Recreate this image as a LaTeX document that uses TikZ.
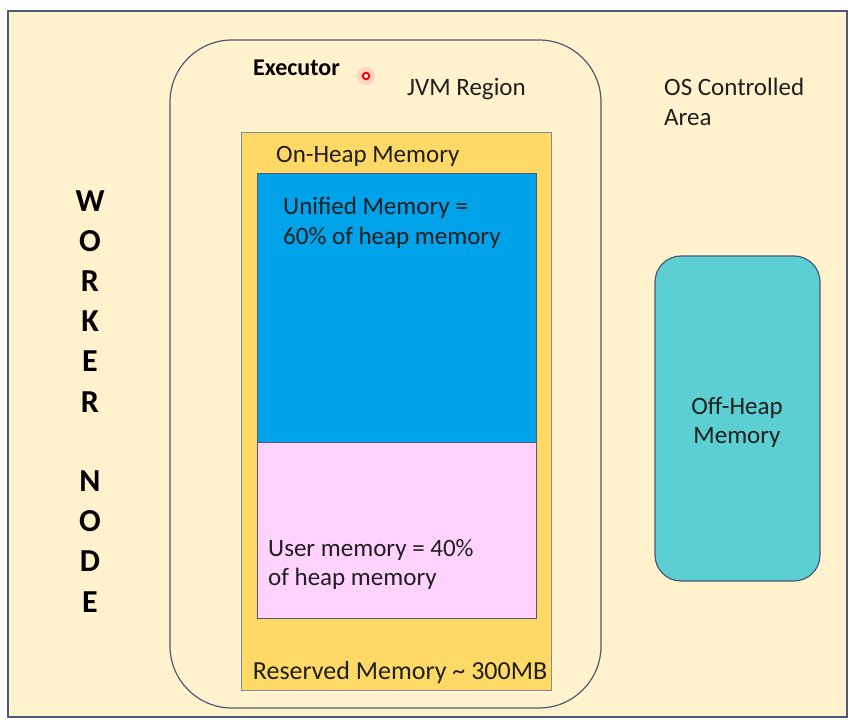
\documentclass[tikz,border=0pt]{standalone}
\usepackage{fontspec}
\setmainfont{Carlito}
\begin{document}
\begin{tikzpicture}[x=1pt,y=-1pt,
  lbl/.style={inner sep=0pt,anchor=base west,font=\fontsize{25}{30}\selectfont,text=black!88},
  letter/.style={inner sep=0pt,font=\fontsize{32}{34}\selectfont\bfseries}]
\definecolor{bgc}{HTML}{FFF2CC}
\definecolor{edgec}{HTML}{4A5A78}
\definecolor{goldc}{HTML}{FFD966}
\definecolor{bluec}{HTML}{00A2EA}
\definecolor{pinkc}{HTML}{FFD2FF}
\definecolor{tealc}{HTML}{5BCFD1}
\useasboundingbox (0,0) rectangle (852,722);
\fill[white] (0,0) rectangle (852,722);
% outer worker node
\draw[edgec,fill=bgc,line width=1.3pt] (8,11) rectangle (847,717);
% JVM region
\draw[edgec,fill=bgc,line width=1.2pt,rounded corners=62pt] (170,40) rectangle (601,708);
% on-heap
\draw[edgec!70,fill=goldc,line width=1pt] (241,133) rectangle (551,690);
% unified
\draw[edgec,fill=bluec,line width=1pt] (257,174) rectangle (536,442);
% user
\draw[edgec,fill=pinkc,line width=1pt] (257,442) rectangle (536,618);
% off heap
\draw[edgec,fill=tealc,line width=1.2pt,rounded corners=26pt] (655,256) rectangle (820,581);
% red pointer dot
\fill[red!25,opacity=0.6] (366,76) circle (9);
\draw[red,line width=2pt,fill=white] (366,76) circle (3.2);
% texts
\node[lbl,font=\fontsize{24}{28}\selectfont\bfseries,text=black] (exec) at (253,76) {Executor};
\node[lbl] (jvm) at (407,96) {JVM Region};
\node[lbl] (os1) at (664,96) {OS Controlled};
\node[lbl] (os2) at (664,126) {Area};
\node[lbl] (onheap) at (276,163) {On-Heap Memory};
\node[lbl] (uni1) at (283,215) {Unified Memory =};
\node[lbl] (uni2) at (283,245) {60\% of heap memory};
\node[lbl] (usr1) at (268,556) {User memory = 40\%};
\node[lbl] (usr2) at (268,585) {of heap memory};
\node[lbl,anchor=base,font=\fontsize{26}{30}\selectfont] (reserved) at (400,679) {Reserved Memory \textasciitilde{} 300MB};
\node[lbl,anchor=base] (off1) at (737,414) {Off-Heap};
\node[lbl,anchor=base] (off2) at (737,443) {Memory};
% worker node letters
\foreach \ch/\yy [count=\i] in {W/201,O/241,R/281,K/321,E/361,R/402,N/481,O/521,D/561,E/602}
  \node[letter] (wn\i) at (90,\yy) {\ch};
\end{tikzpicture}
\end{document}
